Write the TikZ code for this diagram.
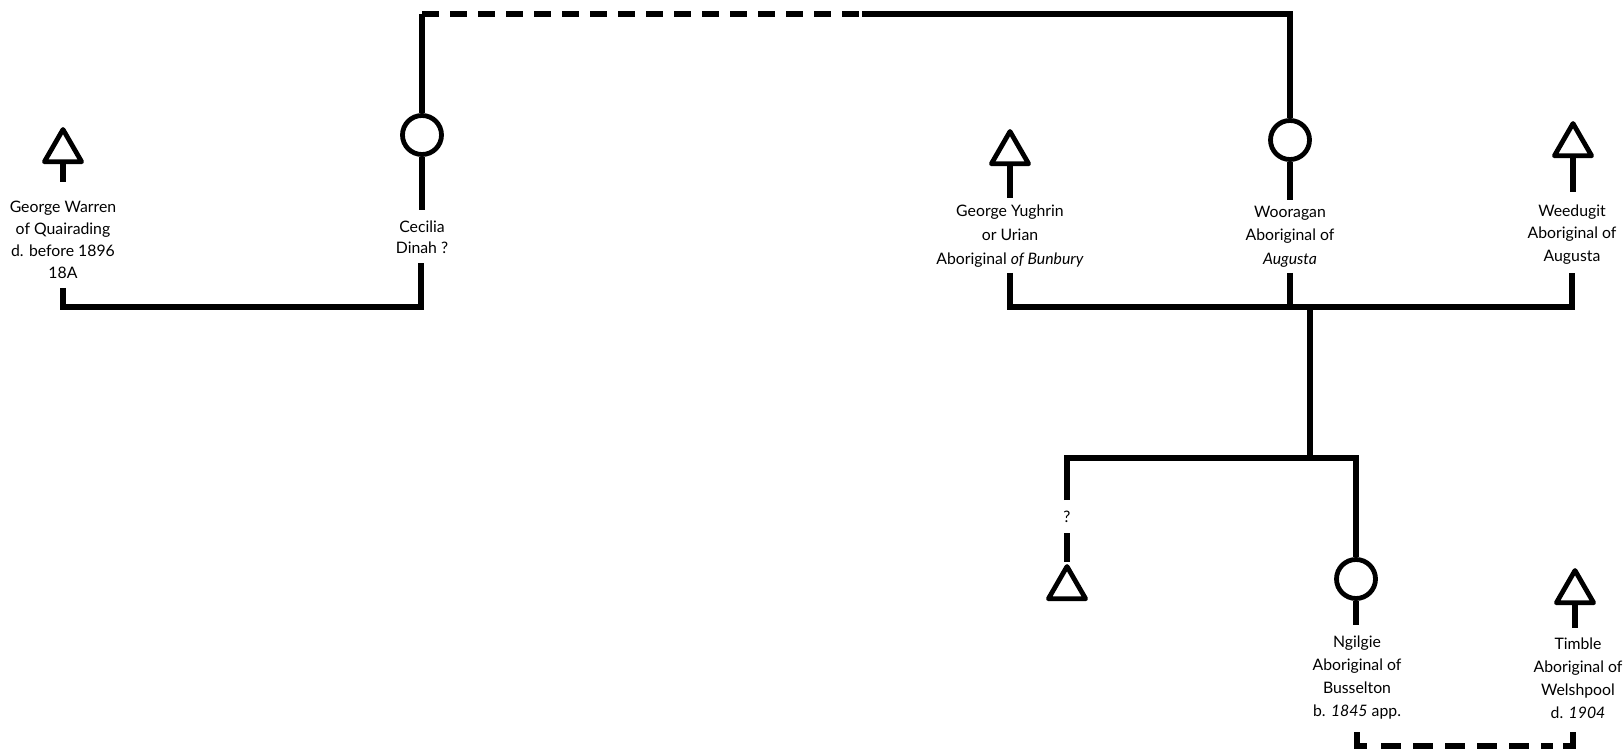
\documentclass[tikz,border=0pt]{standalone}
\usepackage{fontspec}
\setmainfont{Lato}
\usetikzlibrary{shapes.geometric}
\begin{document}
\begin{tikzpicture}[x=1pt,y=-1pt,
  ln/.style={line width=5.2pt, line join=miter},
  dsh/.style={ln, dash pattern=on 17pt off 11pt},
  dshb/.style={ln, dash pattern=on 20pt off 12pt},
  male/.style={draw, line width=4.8pt, line join=round, regular polygon, regular polygon sides=3, minimum size=43pt, inner sep=0pt},
  female/.style={draw, line width=4.8pt, circle, minimum size=39pt, inner sep=0pt},
  lbl/.style={align=center, inner sep=0pt, font=\fontsize{15.8}{23}\selectfont}]
\useasboundingbox (0,0) rectangle (1623,751);

% symbols
\node[male]   (gwT) at (63,151) {};
\node[female] (cec) at (422,135) {};
\node[male]   (gyT) at (1010,153) {};
\node[female] (woo) at (1290,140) {};
\node[male]   (wdT) at (1573,145) {};
\node[male]   (qT)  at (1067,588) {};
\node[female] (ng)  at (1356,579) {};
\node[male]   (tiT) at (1575,592) {};

% labels
\node[lbl, font=\fontsize{15.8}{22}\selectfont] (gwL) at (63,240) {George Warren\\of Quairading\\d. before 1896\\18A};
\node[lbl, font=\fontsize{15.8}{21}\selectfont] (cecL) at (422,237.5) {Cecilia\\Dinah ?};
\node[lbl, font=\fontsize{15.8}{24}\selectfont] (gyL) at (1010,236) {George Yughrin\\or Urian\\Aboriginal \textit{of Bunbury}};
\node[lbl, font=\fontsize{15.8}{23.5}\selectfont] (wooL) at (1290,236.5) {Wooragan\\Aboriginal of\\\textit{Augusta}};
\node[lbl, font=\fontsize{15.8}{22.5}\selectfont] (wdL) at (1572,234.5) {Weedugit\\Aboriginal of\\Augusta};
\node[lbl] (ngL) at (1357,678) {Ngilgie\\Aboriginal of\\Busselton\\b. \textit{1845} app.};
\node[lbl] (tiL) at (1578,678) {Timble\\Aboriginal of\\Welshpool\\d. \textit{1904}};
\node[lbl] (q) at (1067,517) {?};

% junction coordinates
\coordinate (cTop) at (422,14);
\coordinate (dEnd) at (862,14);
\coordinate (gwB) at (63,288);
\coordinate (cecB) at (421,263);
\coordinate (bar1) at (421,307);
\coordinate (gyB) at (1010,273);
\coordinate (woB) at (1290,273);
\coordinate (wdB) at (1572,273);
\coordinate (bar2L) at (1010,307);
\coordinate (bar2R) at (1572,307);
\coordinate (dTop) at (1310,307);
\coordinate (dBot) at (1310,458);
\coordinate (sibL) at (1067,458);
\coordinate (sibR) at (1356,458);
\coordinate (qTop) at (1067,500);
\coordinate (qBot) at (1067,533);
\coordinate (ngB) at (1357,732);
\coordinate (tiB) at (1573,732);
\coordinate (b1) at (1357,746);
\coordinate (b2) at (1573,746);
\coordinate (b1d) at (1381,746);
\coordinate (b2d) at (1553,746);

% stems
\draw[ln] (gwT.south) -- ++(0,18);
\draw[ln] (cec.south) -- ++(0,53);
\draw[ln] (gyT.south) -- ++(0,32);
\draw[ln] (woo.south) -- ++(0,38);
\draw[ln] (wdT.south) -- ++(0,34);
\draw[ln] (ng.south) -- ++(0,24);
\draw[ln] (tiT.south) -- ++(0,23);

% top link
\draw[ln] (cec.north) -- (cTop);
\draw[dsh] (cTop) -- (dEnd);
\draw[ln] (dEnd) -| (woo.north);

% first marriage
\draw[ln] (gwB) |- (bar1) -- (cecB);

% second marriage
\draw[ln] (gyB) -- (bar2L) -- (bar2R) -- (wdB);
\draw[ln] (woB) -- (woB |- bar2L);
\draw[ln] (dTop) -- (dBot);

% children
\draw[ln] (qTop) -- (sibL) -- (sibR) -- (ng.north);
\draw[ln] (qBot) -- (qT.north);

% bottom link
\draw[ln] (ngB) -- (b1) -- ++(10,0);
\draw[dshb] (b1d) -- (b2d);
\draw[ln] (tiB) -- (b2) -- ++(-10,0);
\end{tikzpicture}
\end{document}
